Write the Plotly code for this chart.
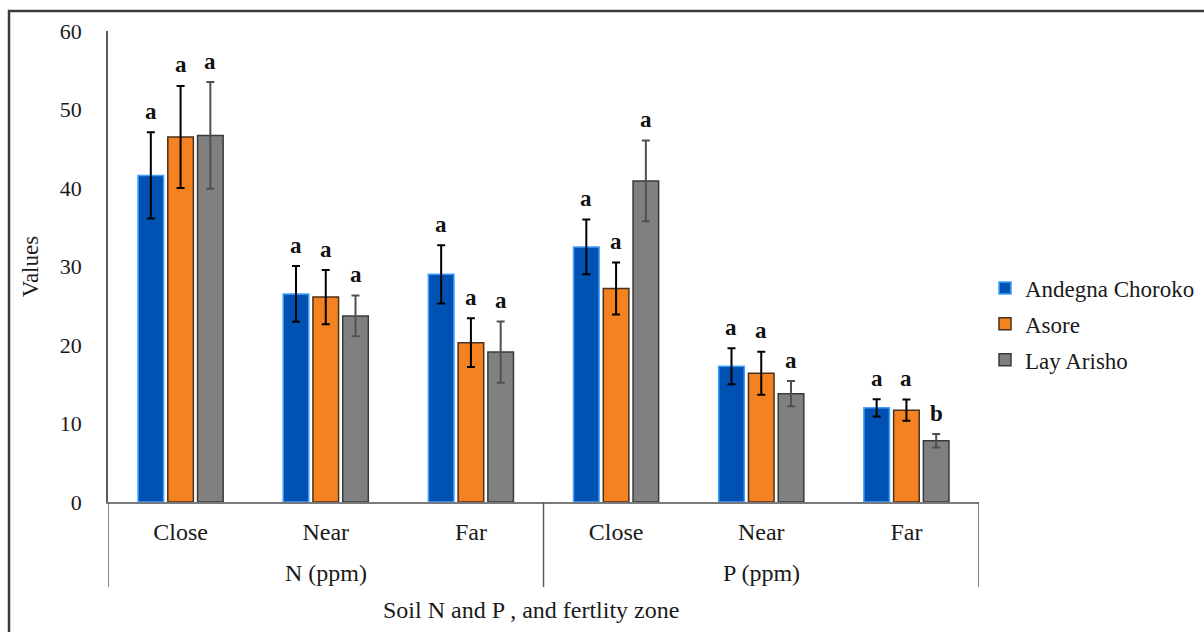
import plotly.graph_objects as go

groups = ["N (ppm)", "N (ppm)", "N (ppm)", "P (ppm)", "P (ppm)", "P (ppm)"]
zones = ["Close", "Near", "Far", "Close", "Near", "Far"]

andegna = [41.6, 26.5, 29.0, 32.5, 17.3, 12.0]
andegna_err = [5.5, 3.55, 3.7, 3.5, 2.3, 1.1]
andegna_letters = ["a", "a", "a", "a", "a", "a"]

asore = [46.5, 26.1, 20.3, 27.2, 16.4, 11.7]
asore_err = [6.5, 3.45, 3.1, 3.3, 2.75, 1.35]
asore_letters = ["a", "a", "a", "a", "a", "a"]

lay = [46.7, 23.7, 19.1, 40.9, 13.8, 7.8]
lay_err = [6.8, 2.6, 3.9, 5.15, 1.6, 0.85]
lay_letters = ["a", "a", "a", "a", "a", "b"]

series = [
    ("Andegna Choroko", andegna, andegna_err, andegna_letters, "#0052B2", "#3FA0FF", "#000000"),
    ("Asore", asore, asore_err, asore_letters, "#F58220", "#4A3020", "#000000"),
    ("Lay Arisho", lay, lay_err, lay_letters, "#808080", "#3A3A3A", "#505050"),
]

FONT = "Liberation Serif, Times New Roman, serif"
TXT = "#1a1a1a"
BARGAP = 0.385
BARGROUPGAP = 0.14

idx = list(range(len(zones)))

fig = go.Figure()
for name, vals, errs, letters, fill, edge, ecol in series:
    fig.add_trace(go.Bar(
        name=name, x=idx, y=vals,
        marker=dict(color=fill, line=dict(color=edge, width=1.5)),
        error_y=dict(type="data", array=errs, visible=True, color=ecol, thickness=2, width=4),
        legendgroup=name,
    ))

n = len(series)
slot = (1 - BARGAP) / n
for k, (name, vals, errs, letters, fill, edge, ecol) in enumerate(series):
    off = (k - (n - 1) / 2) * slot
    for i, (v, e, L) in enumerate(zip(vals, errs, letters)):
        fig.add_annotation(x=i + off, y=v + e, text="<b>" + L + "</b>", showarrow=False,
                           xref="x", yref="y", yanchor="middle", yshift=21,
                           font=dict(family=FONT, size=23, color="#111111"))

# group labels and dividers of the two-level category axis
group_names = []
for g in groups:
    if g not in group_names:
        group_names.append(g)
bounds = [-0.5]
for g in group_names:
    members = [i for i, gg in enumerate(groups) if gg == g]
    fig.add_annotation(x=sum(members) / len(members), y=0, xref="x", yref="paper",
                       text=g, showarrow=False, yanchor="middle", yshift=-71,
                       font=dict(family=FONT, size=24, color=TXT))
    bounds.append(max(members) + 0.5)
for b in bounds:
    fig.add_shape(type="line", xref="x", yref="paper", x0=b, x1=b, y0=0, y1=-85 / 471,
                  line=dict(color="#5a5a5a", width=1.5))

fig.add_annotation(x=(531 - 108) / 871, y=0, xref="paper", yref="paper",
                   text="Soil N and P , and fertlity zone", showarrow=False,
                   yanchor="middle", yshift=-108, font=dict(family=FONT, size=24, color=TXT))

fig.add_shape(type="rect", xref="paper", yref="paper",
              x0=(9 - 108) / 871, x1=(1215 - 108) / 871,
              y0=(502 - 645) / 471, y1=(502 - 11) / 471,
              line=dict(color="#3a3a3a", width=2.5), fillcolor="rgba(0,0,0,0)", layer="below")

fig.update_layout(
    width=1204, height=632,
    margin=dict(l=108, r=225, t=31, b=130, autoexpand=False),
    paper_bgcolor="white", plot_bgcolor="white",
    barmode="group", bargap=BARGAP, bargroupgap=BARGROUPGAP,
    font=dict(family=FONT, size=24, color=TXT),
    showlegend=True,
    legend=dict(x=(985 - 108) / 871, xanchor="left", y=(502 - 324) / 471, yanchor="middle",
                font=dict(family=FONT, size=23, color=TXT), tracegroupgap=3,
                bgcolor="rgba(0,0,0,0)"),
)
fig.update_yaxes(range=[0, 60], dtick=10, showline=True, linecolor="#5a5a5a", linewidth=1.5,
                 showgrid=False, zeroline=False, ticks="", ticklabelstandoff=20,
                 tickfont=dict(family=FONT, size=22, color=TXT),
                 title=dict(text="Values", font=dict(family=FONT, size=23, color=TXT), standoff=15))
fig.update_xaxes(range=[-0.5, len(zones) - 0.5], tickvals=idx, ticktext=zones,
                 showline=True, linecolor="#7a7a7a", linewidth=1.5,
                 showgrid=False, zeroline=False, ticks="", ticklabelstandoff=7,
                 tickfont=dict(family=FONT, size=24, color=TXT))

fig.write_html("out.html")
